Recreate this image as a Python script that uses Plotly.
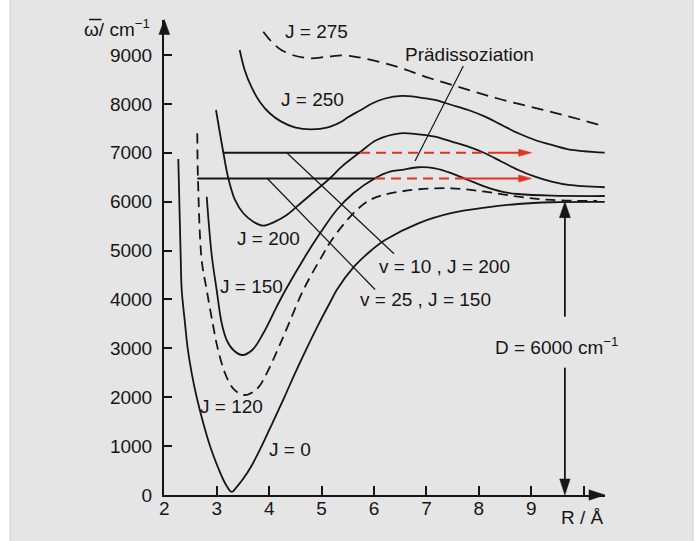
import plotly.graph_objects as go

# ---------------- data ----------------
# potential curves: R in Angstrom, wavenumber in cm^-1
R_J0 = [2.267, 2.313, 2.332, 2.395, 2.446, 2.523, 2.618, 2.744, 2.872, 3.018, 3.11, 3.196,
        3.286, 3.387, 3.501, 3.654, 3.858, 4.06, 4.289, 4.493, 4.716, 4.951, 5.193, 5.288,
        5.619, 5.956, 6.21, 6.845, 7.487, 8.117, 8.746, 9.394, 10.40]
W_J0 = [6873, 4847, 4193, 3511, 2999, 2488, 1997, 1465, 1000, 577, 346, 170,
        60, 170, 325, 577, 1000, 1465, 1997, 2488, 2999, 3511, 4002, 4192,
        4669, 5011, 5215, 5557, 5768, 5876, 5952, 5987, 5994]

R_J120 = [2.629, 2.642, 2.713, 2.809, 2.923, 3.018, 3.158, 3.286, 3.387, 3.539, 3.692,
          3.806, 3.953, 4.174, 4.378, 4.651, 5.002, 5.193, 5.605, 5.923, 6.177, 6.495,
          6.845, 7.482, 8.117, 8.752, 9.389, 10.253]
W_J120 = [7398, 6484, 4806, 4192, 3511, 2999, 2488, 2214, 2105, 2044, 2105,
          2214, 2488, 2999, 3511, 4192, 4874, 5215, 5762, 6034, 6136, 6204,
          6253, 6273, 6204, 6101, 6034, 6013]

R_J150 = [2.809, 2.904, 2.999, 3.095, 3.19, 3.316, 3.488, 3.678, 3.888, 4.144, 4.312,
          4.684, 4.97, 5.288, 5.605, 6.019, 6.305, 6.528, 6.845, 7.163, 7.482, 7.798,
          8.117, 8.435, 8.752, 9.389, 10.40]
W_J150 = [6101, 4908, 4192, 3511, 3169, 2965, 2862, 2965, 3306, 3851, 4192,
          4874, 5352, 5829, 6171, 6478, 6613, 6648, 6703, 6682, 6580, 6443,
          6306, 6204, 6156, 6122, 6115]

R_J200 = [2.986, 3.125, 3.221, 3.348, 3.507, 3.697, 3.888, 4.111, 4.335, 4.525, 4.746,
          5.16, 5.384, 5.733, 6.051, 6.496, 6.845, 7.163, 7.482, 7.798, 8.117, 8.435,
          8.752, 9.07, 9.389, 9.706, 10.40]
W_J200 = [7875, 7010, 6478, 6034, 5762, 5590, 5508, 5590, 5727, 5897, 6101,
          6478, 6715, 7010, 7261, 7398, 7378, 7329, 7227, 7124, 6989, 6817,
          6648, 6510, 6408, 6341, 6294]

R_J250 = [3.438, 3.533, 3.659, 3.82, 4.01, 4.232, 4.487, 4.804, 5.122, 5.376, 5.504,
          5.733, 5.962, 6.21, 6.528, 6.845, 7.163, 7.482, 7.798, 8.117, 8.435, 8.752,
          9.07, 9.389, 9.706, 10.40]
W_J250 = [9103, 8694, 8352, 8045, 7808, 7637, 7521, 7480, 7521, 7636, 7726,
          7865, 8008, 8110, 8162, 8135, 8080, 7977, 7875, 7738, 7568, 7398,
          7261, 7159, 7071, 7002]

R_J275 = [3.888, 4.016, 4.13, 4.232, 4.474, 4.779, 5.122, 5.447, 5.796, 6.433, 7.068,
          7.703, 8.34, 8.975, 9.61, 10.40]
W_J275 = [9477, 9307, 9185, 9103, 8990, 8933, 8966, 8990, 8933, 8761, 8524,
          8319, 8115, 7943, 7773, 7540]

# vibrational levels (v=10,J=200) and (v=25,J=150)
LEVEL_W = [7000, 6473]
LEVEL_START = [3.125, 2.629]
LEVEL_TUNNEL_START = [5.733, 6.019]
LEVEL_TUNNEL_END = [8.212, 7.602]
LEVEL_ARROW_TIP = [9.007, 9.007]

# pointer lines: (R0, W0, R1, W1)
POINTERS = [
    (4.335, 7000, 6.381, 4935),   # v=10, J=200
    (3.965, 6473, 6.019, 4202),   # v=25, J=150
    (7.703, 8775, 6.782, 6832),   # Praedissoziation
]

# dissociation energy marker
D_VALUE = 6000
D_R = 9.64
D_GAP = [2603, 3646]

# axes
X_RANGE = [1.9943, 10.405]
Y_RANGE = [-2, 9716]
X_TICKS = [2, 3, 4, 5, 6, 7, 8, 9, 10]
X_TICKTEXT = ["2", "3", "4", "5", "6", "7", "8", "9", " "]
Y_TICKS = [0, 1000, 2000, 3000, 4000, 5000, 6000, 7000, 8000, 9000]
Y_TICKTEXT = [str(v) for v in Y_TICKS]

LABELS = [
    ("J = 275", 4.912, 9471),
    ("J = 250", 4.817, 8080),
    ("J = 200", 3.978, 5256),
    ("J = 150", 3.654, 4254),
    ("J = 120", 3.291, 1805),
    ("J = 0", 4.397, 933),
    ("Prädissoziation", 7.812, 9001),
    ("v = 10 , J = 200", 7.335, 4663),
    ("v = 25 , J = 150", 6.973, 3988),
    ("D = 6000 cm<sup>−1</sup>", 9.472, 3047),
]
X_TITLE = "R / Å"
Y_TITLE = "ω/ cm<sup>−1</sup>"

# ---------------- styling / geometry ----------------
W, H = 696, 541
ML, MR, MT, MB = 164, 91, 20, 46
PW, PH = W - ML - MR, H - MT - MB
BLACK = "#161616"
RED = "#e3321e"
FONT = "Liberation Sans, Arial, sans-serif"
LW = 1.8


def to_px(r, w):
    x = ML + (r - X_RANGE[0]) / (X_RANGE[1] - X_RANGE[0]) * PW
    y = MT + PH - (w - Y_RANGE[0]) / (Y_RANGE[1] - Y_RANGE[0]) * PH
    return x, y


def px_to_paper(x, y):
    return (x - ML) / PW, (MT + PH - y) / PH


def arrowhead(r, w, direction, length, half, color):
    tx, ty = to_px(r, w)
    dx, dy = {"up": (0, 1), "down": (0, -1), "right": (-1, 0), "left": (1, 0)}[direction]
    bx, by = tx + dx * length, ty + dy * length
    px_, py_ = -dy, dx
    pts = [(tx, ty), (bx + px_ * half, by + py_ * half), (bx - px_ * half, by - py_ * half)]
    pp = [px_to_paper(x, y) for x, y in pts]
    path = "M {} {} L {} {} L {} {} Z".format(*[c for p in pp for c in p])
    return dict(type="path", path=path, xref="paper", yref="paper",
                fillcolor=color, line=dict(color=color, width=0.5), layer="above")


fig = go.Figure()


def add_line(xs, ys, color=BLACK, width=LW, dash=None, spline=True):
    fig.add_trace(go.Scatter(
        x=xs, y=ys, mode="lines",
        line=dict(color=color, width=width, dash=dash,
                  shape="spline" if spline else "linear", smoothing=1.0),
        hoverinfo="skip", showlegend=False))


DASH = "10px,6px"
add_line(R_J0, W_J0)
add_line(R_J120, W_J120, dash=DASH)
add_line(R_J150, W_J150)
add_line(R_J200, W_J200)
add_line(R_J250, W_J250)
add_line(R_J275, W_J275, dash="12px,7px")

shapes = []
# levels
for w, r0, r1, r2, tip in zip(LEVEL_W, LEVEL_START, LEVEL_TUNNEL_START,
                              LEVEL_TUNNEL_END, LEVEL_ARROW_TIP):
    add_line([r0, r1], [w, w], spline=False)
    add_line([r1, r2], [w, w], color=RED, dash=DASH, spline=False)
    add_line([r2, tip - 0.15], [w, w], color=RED, spline=False)
    shapes.append(arrowhead(tip, w, "right", 13, 3.6, RED))

for r0, w0, r1, w1 in POINTERS:
    add_line([r0, r1], [w0, w1], width=1.2, spline=False)

# D arrows
add_line([D_R, D_R], [D_GAP[1], D_VALUE - 250], width=LW, spline=False)
add_line([D_R, D_R], [D_GAP[0], 250], width=LW, spline=False)
shapes.append(arrowhead(D_R, D_VALUE, "up", 16, 5.5, BLACK))
shapes.append(arrowhead(D_R, Y_RANGE[0], "down", 16, 5.2, BLACK))

# axis arrowheads
shapes.append(arrowhead(2, Y_RANGE[1] + 10, "up", 15, 5.4, BLACK))
shapes.append(arrowhead(X_RANGE[1], Y_RANGE[0], "right", 16, 5.2, BLACK))

# background panel
x0p, _ = px_to_paper(10, 0)
x1p, _ = px_to_paper(693, 0)
_, y1p = px_to_paper(0, -2)
_, y0p = px_to_paper(0, H + 2)
shapes.insert(0, dict(type="rect", xref="paper", yref="paper", x0=x0p, x1=x1p,
                      y0=y0p, y1=y1p, fillcolor="#e5e5e5",
                      line=dict(color="#cdcdcd", width=1), layer="below"))

# overbar of the wavenumber symbol in the y title
bx0, by0 = px_to_paper(89, 19.5)
bx1, _ = px_to_paper(101.5, 19.5)
shapes.append(dict(type="line", xref="paper", yref="paper", x0=bx0, x1=bx1, y0=by0, y1=by0,
                   line=dict(color=BLACK, width=1.5)))

annotations = []
for text, r, w in LABELS:
    annotations.append(dict(text=text, x=r, y=w, xref="x", yref="y", showarrow=False,
                            xanchor="center", yanchor="middle",
                            font=dict(family=FONT, size=19, color=BLACK)))
xt, yt = px_to_paper(582, 517)
annotations.append(dict(text=X_TITLE, x=xt, y=yt, xref="paper", yref="paper",
                        showarrow=False, xanchor="center", yanchor="middle",
                        font=dict(family=FONT, size=19, color=BLACK)))
xt, yt = px_to_paper(152, 28)
annotations.append(dict(text=Y_TITLE, x=xt, y=yt, xref="paper", yref="paper",
                        showarrow=False, xanchor="right", yanchor="middle",
                        font=dict(family=FONT, size=19, color=BLACK)))

axis_common = dict(showline=True, linewidth=2, linecolor=BLACK, ticks="inside",
                   tickwidth=1.8, tickcolor=BLACK, showgrid=False, zeroline=False,
                   tickfont=dict(family=FONT, size=19, color=BLACK), fixedrange=True)

fig.update_layout(
    width=W, height=H, autosize=False,
    margin=dict(l=ML, r=MR, t=MT, b=MB, pad=0),
    paper_bgcolor="white", plot_bgcolor="rgba(0,0,0,0)",
    xaxis=dict(range=X_RANGE, tickvals=X_TICKS, ticktext=X_TICKTEXT, ticklen=9,
               ticklabelstandoff=-5, **axis_common),
    yaxis=dict(range=Y_RANGE, tickvals=Y_TICKS, ticktext=Y_TICKTEXT, ticklen=8,
               ticklabelstandoff=6, **axis_common),
    shapes=shapes, annotations=annotations, showlegend=False,
)

fig.write_html("out.html", config={"displayModeBar": False},
               post_script="document.body.style.margin='0';document.body.style.overflow='hidden';")
